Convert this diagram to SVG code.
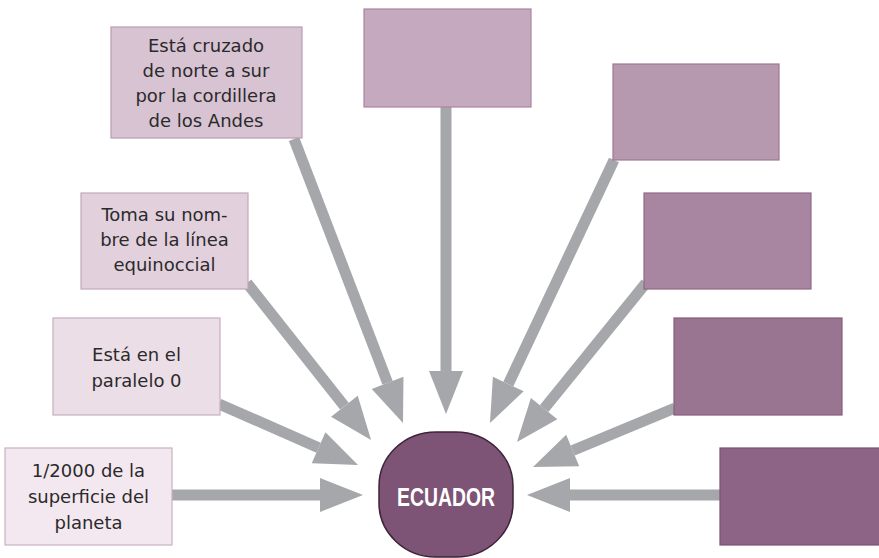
<svg xmlns="http://www.w3.org/2000/svg" width="879" height="558" viewBox="0 0 879 558">
<defs>
<style>
.box{stroke-width:1.2}
.lbl{font-family:"DejaVu Sans","Liberation Sans",sans-serif;font-size:18px;fill:#2b2a2b;text-anchor:middle}
.conn{stroke:#a6a7aa;stroke-width:11;fill:none;marker-end:url(#head)}
.ctr{font-family:"Liberation Sans",Arial,sans-serif;font-weight:bold;font-size:25px;fill:#ffffff;text-anchor:middle}
</style>
<marker id="head" markerUnits="userSpaceOnUse" viewBox="0 -17 43 34" refX="0" refY="0" markerWidth="43" markerHeight="34" orient="auto" overflow="visible">
<path d="M0,-17 L43,0 L0,17 Z" fill="#a6a7aa"/>
</marker>
</defs>
<rect width="879" height="558" fill="#ffffff"/>
<g id="connectors">
<line class="conn" x1="294" y1="139" x2="387.6" y2="382.9"/>
<line class="conn" x1="247" y1="283" x2="344.4" y2="406.2"/>
<line class="conn" x1="219" y1="404" x2="318.6" y2="447.7"/>
<line class="conn" x1="172" y1="495" x2="320" y2="495"/>
<line class="conn" x1="446" y1="107" x2="446" y2="371"/>
<line class="conn" x1="614" y1="160" x2="508.3" y2="384.1"/>
<line class="conn" x1="646" y1="283" x2="544.1" y2="408.6"/>
<line class="conn" x1="675" y1="408" x2="572.7" y2="450.5"/>
<line class="conn" x1="720" y1="495" x2="570" y2="495"/>
</g>
<g id="node-cordillera">
<rect class="box" x="111" y="27" width="191" height="111" fill="#d8c3d3" stroke="#bb9cb3"/>
<text class="lbl" x="206" y="52">Está cruzado</text>
<text class="lbl" x="206" y="77">de norte a sur</text>
<text class="lbl" x="206" y="102">por la cordillera</text>
<text class="lbl" x="206" y="127">de los Andes</text>
</g>
<g id="node-nombre">
<rect class="box" x="81" y="193" width="167" height="96" fill="#e2d1dd" stroke="#c3a7bb"/>
<text class="lbl" x="164.5" y="221">Toma su nom-</text>
<text class="lbl" x="164.5" y="246">bre de la línea</text>
<text class="lbl" x="164.5" y="271">equinoccial</text>
</g>
<g id="node-paralelo">
<rect class="box" x="53" y="318" width="167" height="97" fill="#ebdee7" stroke="#c8adc1"/>
<text class="lbl" x="136.5" y="361">Está en el</text>
<text class="lbl" x="136.5" y="387">paralelo 0</text>
</g>
<g id="node-superficie">
<rect class="box" x="5" y="448" width="167" height="97" fill="#f3e8ef" stroke="#caafc3"/>
<text class="lbl" x="88.5" y="477">1/2000 de la</text>
<text class="lbl" x="88.5" y="503">superficie del</text>
<text class="lbl" x="88.5" y="529">planeta</text>
</g>
<g id="node-top">
<rect class="box" x="364" y="9" width="167" height="98" fill="#c5a9bf" stroke="#a8859f"/>
</g>
<g id="node-right1">
<rect class="box" x="613" y="64" width="166" height="96" fill="#b698af" stroke="#9c7895"/>
</g>
<g id="node-right2">
<rect class="box" x="644" y="193" width="167" height="96" fill="#a886a1" stroke="#8f6a88"/>
</g>
<g id="node-right3">
<rect class="box" x="674" y="318" width="168" height="97" fill="#9a7592" stroke="#855d7c"/>
</g>
<g id="node-right4">
<rect class="box" x="720" y="448" width="165" height="97" fill="#8d6486" stroke="#7a5273"/>
</g>
<g id="node-ecuador">
<rect x="379" y="432" width="134" height="125" rx="57" ry="54" fill="#7d5376" stroke="#3d2438" stroke-width="1.5"/>
<text class="ctr" x="446" y="506" textLength="98" lengthAdjust="spacingAndGlyphs">ECUADOR</text>
</g>
</svg>
